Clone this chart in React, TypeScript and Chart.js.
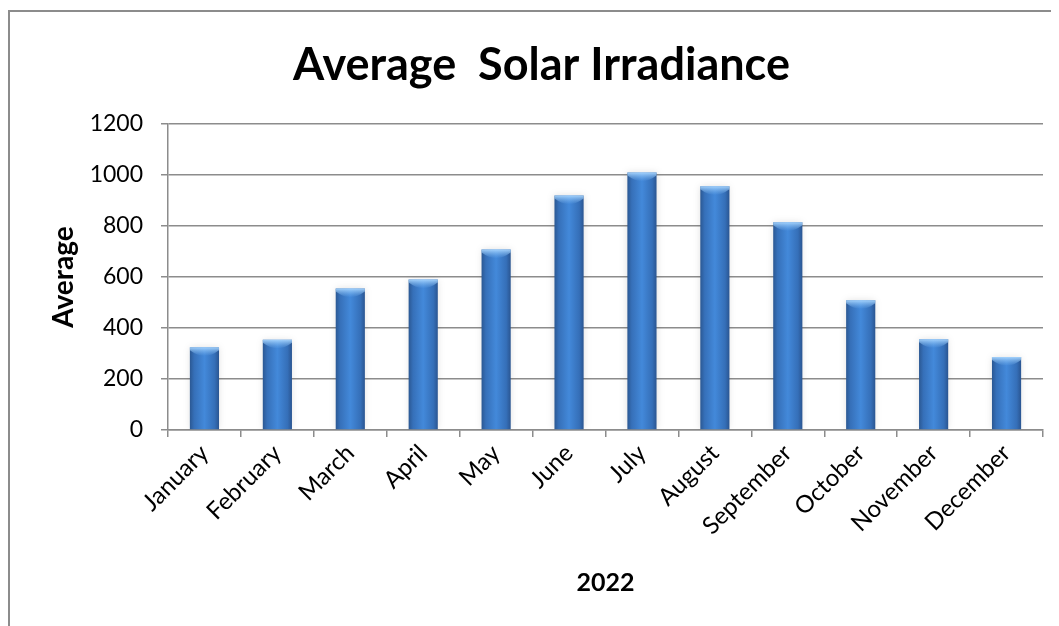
import React, { useEffect, useRef } from "react";
import { Chart, registerables } from "chart.js";

Chart.register(...registerables);

const categories = [
  "January", "February", "March", "April", "May", "June",
  "July", "August", "September", "October", "November", "December",
];
const irradiance = [325, 354, 555, 590, 708, 920, 1010, 956, 815, 509, 356, 286];
const yMin = 0;
const yMax = 1200;
const yStep = 200;
const titleText = "Average  Solar Irradiance";
const xTitle = "2022";
const yTitle = "Average";

const BAR_PCT = 0.4;
const FONT = "Lato, 'Open Sans', sans-serif";
const PAD_LEFT = 30;

const barShadow = {
  id: "barShadow",
  beforeDatasetsDraw(chart: any) {
    const c = chart.ctx;
    c.save();
    c.shadowColor = "rgba(0,0,0,0.13)";
    c.shadowBlur = 7;
    c.shadowOffsetX = 0;
    c.shadowOffsetY = 0;
  },
  afterDatasetsDraw(chart: any) {
    const c = chart.ctx;
    c.restore();
    const meta = chart.getDatasetMeta(0);
    c.save();
    meta.data.forEach((bar: any) => {
      const { x, y, width } = bar.getProps(["x", "y", "width"], true);
      const left = x - width / 2;
      const g = c.createLinearGradient(0, y, 0, y + 9);
      g.addColorStop(0, "rgba(170,215,255,0.95)");
      g.addColorStop(1, "rgba(120,180,240,0)");
      c.fillStyle = g;
      c.beginPath();
      c.moveTo(left, y);
      c.lineTo(left + width, y);
      c.lineTo(left + width, y + 3);
      c.quadraticCurveTo(x, y + 14, left, y + 3);
      c.closePath();
      c.fill();
    });
    c.restore();
  },
};

export default function App() {
  const ref = useRef<HTMLCanvasElement | null>(null);

  useEffect(() => {
    if (!ref.current) return;
    const chart = new Chart(ref.current, {
      type: "bar",
      data: {
        labels: categories,
        datasets: [
          {
            label: yTitle,
            data: irradiance,
            barPercentage: BAR_PCT,
            categoryPercentage: 1,
            borderWidth: 0,
            backgroundColor: (ctx: any) => {
              const chart = ctx.chart;
              const xs = chart.scales?.x;
              if (!xs || ctx.type !== "data" || !xs.width) return "#3b78c8";
              const cx = xs.getPixelForValue(ctx.dataIndex);
              const w = (xs.width / categories.length) * BAR_PCT;
              const g = chart.ctx.createLinearGradient(cx - w / 2, 0, cx + w / 2, 0);
              g.addColorStop(0, "#2b5893");
              g.addColorStop(0.15, "#3670b9");
              g.addColorStop(0.5, "#4389da");
              g.addColorStop(0.85, "#356fb8");
              g.addColorStop(1, "#2a5591");
              return g;
            },
          },
        ],
      },
      options: {
        animation: false,
        responsive: false,
        maintainAspectRatio: false,
        layout: { padding: { left: PAD_LEFT, right: 16, top: 0, bottom: 0 } },
        plugins: {
          legend: { display: false },
          tooltip: { enabled: false },
          title: {
            display: true,
            text: titleText,
            color: "#000",
            font: { family: FONT, size: 45, weight: "bold" },
            padding: { top: 26, bottom: 32 },
          },
        },
        scales: {
          x: {
            afterFit: (s: any) => {
              s.height = 196;
            },
            grid: {
              display: true,
              drawOnChartArea: false,
              drawTicks: true,
              tickLength: 7,
              color: "#8c8c8c",
              lineWidth: 1.5,
              offset: true,
            },
            border: { display: true, color: "#8c8c8c", width: 1.5 },
            ticks: {
              color: "#000",
              font: { family: FONT, size: 24 },
              maxRotation: 45,
              minRotation: 45,
              padding: 2,
              autoSkip: false,
            },
            title: {
              display: true,
              text: xTitle,
              color: "#000",
              font: { family: FONT, size: 25, weight: "bold" },
              padding: { top: 18, bottom: 28 },
            },
          },
          y: {
            min: yMin,
            max: yMax,
            afterFit: (s: any) => {
              s.width = 158 - PAD_LEFT;
            },
            grid: {
              color: "#8c8c8c",
              lineWidth: 1.5,
              tickLength: 7,
              drawTicks: true,
            },
            border: { display: true, color: "#8c8c8c", width: 1.5 },
            ticks: {
              stepSize: yStep,
              color: "#000",
              font: { family: FONT, size: 23 },
              padding: 18,
              callback: (v: any) => String(v),
            },
            title: {
              display: true,
              text: yTitle,
              color: "#000",
              font: { family: FONT, size: 28, weight: "bold" },
              padding: { top: 7, bottom: 8 },
            },
          },
        },
      },
      plugins: [barShadow],
    } as any);
    return () => chart.destroy();
  }, []);

  return (
    <div
      style={{
        marginTop: 2,
        borderTop: "2px solid #8c8c8c",
        borderLeft: "2px solid #8c8c8c",
        width: 1051,
        height: 616,
        background: "#fff",
      }}
    >
      <canvas ref={ref} width={1049} height={614} style={{ display: "block" }} />
    </div>
  );
}
